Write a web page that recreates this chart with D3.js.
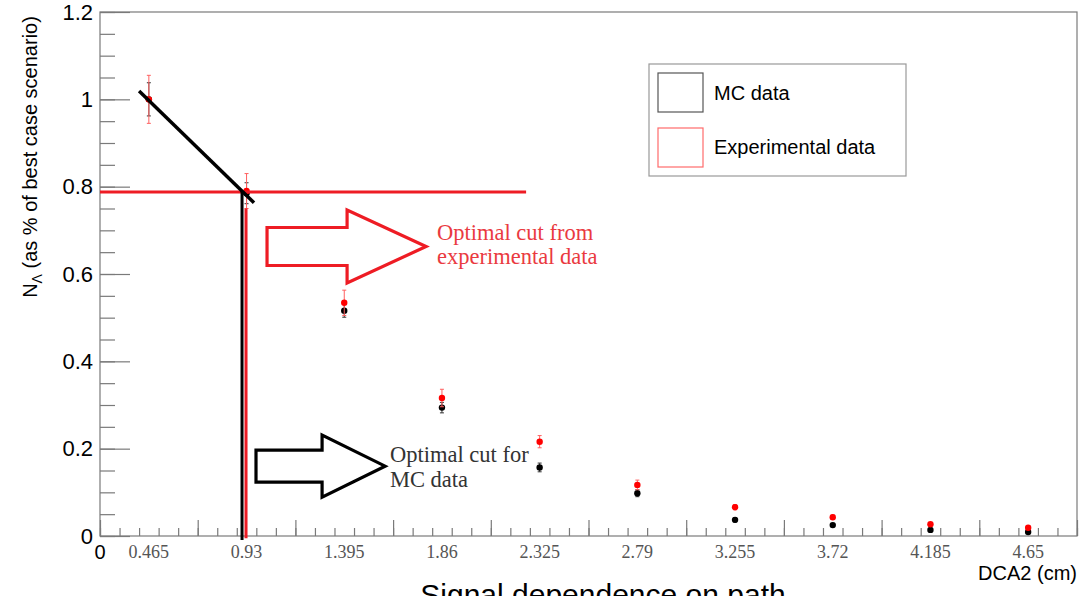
<!DOCTYPE html>
<html>
<head>
<meta charset="utf-8">
<script src="https://cdn.jsdelivr.net/npm/d3@7"></script>
<style>
  html, body { margin: 0; padding: 0; background: #fff; overflow: hidden; }
</style>
</head>
<body>
<div id="chart"></div>
<script>
const width = 1089;
const height = 596;

// bin centres (cm) and the pasted labels under them
var binCentres = [0.2325, 0.6975, 1.1625, 1.6275, 2.0925, 2.5575, 3.0225, 3.4875, 3.9525, 4.4175];
var binLabels = ['0.465', '0.93', '1.395', '1.86', '2.325', '2.79', '3.255', '3.72', '4.185', '4.65'];

// N_Lambda relative to best case
var mcValues  = [1.0, 0.785, 0.516, 0.294, 0.157, 0.098, 0.037, 0.025, 0.014, 0.009];
var mcErrors  = [0.038, 0.024, 0.015, 0.012, 0.010, 0.008, 0.005, 0.004, 0.003, 0.003];
var expValues = [1.0, 0.79, 0.534, 0.316, 0.216, 0.117, 0.066, 0.043, 0.027, 0.019];
var expErrors = [0.055, 0.04, 0.029, 0.02, 0.014, 0.011, 0.006, 0.005, 0.004, 0.004];

var yTicks = [0, 0.2, 0.4, 0.6, 0.8, 1, 1.2];

// hand drawn cut markers, in data units
var mcSlope = [[0.186, 1.019], [0.733, 0.763]];
var expCutLevel = [[0, 0.788], [2.028, 0.788]];
var mcCutLine = [[0.676, 0.789], [0.676, -0.009]];
var expCutLine = [[0.695, 0.75], [0.695, -0.005]];

var color_red = '#ee1c24';
var color_axis = '#7a7a7a';

var svg = d3.select('#chart').append('svg')
  .attr('width', width)
  .attr('height', height)
  .style('font-family', '"Liberation Sans", Arial, sans-serif');

const x = d3.scaleLinear().domain([0, 4.65]).range([100, 1077]);
const y = d3.scaleLinear().domain([0, 1.2]).range([536, 12]);

// frame
svg.append('rect')
  .attr('x', x(0)).attr('y', y(1.2))
  .attr('width', x(4.65) - x(0)).attr('height', y(0) - y(1.2))
  .attr('fill', 'none').attr('stroke', color_axis).attr('stroke-width', 1.2);

// x axis: major every bin, 5 minor per bin
var xMajor = d3.range(0, 11).map(i => i * 0.465);
var xMinor = d3.range(0, 51).map(i => i * 0.093);

function styleAxis(g) {
  g.select('.domain').remove();
  g.selectAll('line').attr('stroke', color_axis).attr('stroke-width', 1.2);
  g.selectAll('text').remove();
}

svg.append('g').attr('transform', 'translate(0,' + y(0) + ')')
  .call(d3.axisBottom(x).tickValues(xMinor).tickSize(-8))
  .call(styleAxis);
svg.append('g').attr('transform', 'translate(0,' + y(0) + ')')
  .call(d3.axisBottom(x).tickValues(xMajor).tickSize(-16))
  .call(styleAxis);

// y axis
var yMinor = d3.range(0, 25).map(i => i * 0.05);
svg.append('g').attr('transform', 'translate(' + x(0) + ',0)')
  .call(d3.axisLeft(y).tickValues(yMinor).tickSize(-15))
  .call(styleAxis);
var yAxis = svg.append('g').attr('transform', 'translate(' + x(0) + ',0)')
  .call(d3.axisLeft(y).tickValues(yTicks).tickSizeInner(-30).tickSizeOuter(0).tickPadding(7).tickFormat(d3.format('')));
yAxis.select('.domain').remove();
yAxis.selectAll('line').attr('stroke', color_axis).attr('stroke-width', 1.2);
yAxis.selectAll('text')
  .attr('fill', '#000')
  .style('font-size', '22px')
  .style('font-family', '"Liberation Sans", Arial, sans-serif');

// ROOT's own zero on the x axis
svg.append('text')
  .attr('x', x(0)).attr('y', 559)
  .attr('text-anchor', 'middle')
  .style('font-size', '20px')
  .text('0');

// pasted bin labels
svg.append('g').selectAll('text')
  .data(binLabels)
  .enter().append('text')
  .attr('x', (d, i) => x(binCentres[i]))
  .attr('y', 558)
  .attr('text-anchor', 'middle')
  .attr('fill', '#555')
  .style('font-family', '"Liberation Serif", "Times New Roman", serif')
  .style('font-size', '18px')
  .text(d => d);

// axis titles
svg.append('text')
  .attr('x', x(4.65)).attr('y', 580)
  .attr('text-anchor', 'end')
  .style('font-size', '20px')
  .text('DCA2 (cm)');

var yTitle = svg.append('text')
  .attr('transform', 'translate(37,' + 157 + ') rotate(-90)')
  .attr('text-anchor', 'middle')
  .style('font-size', '20px');
yTitle.append('tspan').text('N');
yTitle.append('tspan').attr('dy', 5).style('font-size', '14px').text('\u039B');
yTitle.append('tspan').attr('dy', -5).text(' (as % of best case scenario)');

svg.append('text')
  .attr('x', 603).attr('y', 605)
  .attr('text-anchor', 'middle')
  .style('font-size', '30px')
  .text('Signal dependence on path');

// error bars + markers
function drawSeries(values, errors, col, barCol) {
  var g = svg.append('g');
  var pts = values.map((v, i) => ({x: binCentres[i], v: v, e: errors[i]}));
  g.selectAll('line.err').data(pts).enter().append('line')
    .attr('x1', d => x(d.x)).attr('x2', d => x(d.x))
    .attr('y1', d => y(d.v + d.e)).attr('y2', d => y(d.v - d.e))
    .attr('stroke', barCol).attr('stroke-width', 1);
  g.selectAll('line.capT').data(pts).enter().append('line')
    .attr('x1', d => x(d.x) - 2).attr('x2', d => x(d.x) + 2)
    .attr('y1', d => y(d.v + d.e)).attr('y2', d => y(d.v + d.e))
    .attr('stroke', barCol).attr('stroke-width', 1);
  g.selectAll('line.capB').data(pts).enter().append('line')
    .attr('x1', d => x(d.x) - 2).attr('x2', d => x(d.x) + 2)
    .attr('y1', d => y(d.v - d.e)).attr('y2', d => y(d.v - d.e))
    .attr('stroke', barCol).attr('stroke-width', 1);
  g.selectAll('circle').data(pts).enter().append('circle')
    .attr('cx', d => x(d.x)).attr('cy', d => y(d.v))
    .attr('r', 3.2)
    .attr('fill', col);
}
drawSeries(mcValues, mcErrors, '#000', '#333');
drawSeries(expValues, expErrors, '#ff0000', '#ff6060');

// cut lines
const line = d3.line().x(d => x(d[0])).y(d => y(d[1]));
svg.append('path').attr('d', line(expCutLevel))
  .attr('stroke', color_red).attr('stroke-width', 3).attr('fill', 'none');
svg.append('path').attr('d', line(mcSlope))
  .attr('stroke', '#000').attr('stroke-width', 3.5).attr('fill', 'none');
svg.append('path').attr('d', line(expCutLine))
  .attr('stroke', color_red).attr('stroke-width', 3).attr('fill', 'none');
svg.append('path').attr('d', line(mcCutLine))
  .attr('stroke', '#000').attr('stroke-width', 3).attr('fill', 'none');

// arrows: tail x, head base x, tip x, centre y, body half height, head half height
var expArrow = [0.795, 1.176, 1.552, 0.663, 0.0435, 0.0836];
var mcArrow = [0.7425, 1.057, 1.357, 0.160, 0.0367, 0.071];

function arrowPoints(a) {
  var [x0, x1, x2, yc, hb, hh] = a;
  return [[x0, yc + hb], [x1, yc + hb], [x1, yc + hh], [x2, yc],
          [x1, yc - hh], [x1, yc - hb], [x0, yc - hb]];
}
svg.append('path').attr('d', line(arrowPoints(expArrow)) + 'Z')
  .attr('fill', 'none').attr('stroke', color_red).attr('stroke-width', 3.2);
svg.append('path').attr('d', line(arrowPoints(mcArrow)) + 'Z')
  .attr('fill', 'none').attr('stroke', '#000').attr('stroke-width', 3.2);

// annotations
var expNote = ['Optimal cut from', 'experimental data'];
var mcNote = ['Optimal cut for', 'MC data'];
svg.append('g').selectAll('text').data(expNote).enter().append('text')
  .attr('x', x(1.604)).attr('y', (d, i) => y(0.678) + i * 24)
  .attr('fill', '#ea3a3f')
  .style('font-family', '"Liberation Serif", "Times New Roman", serif')
  .style('font-size', '22.5px')
  .text(d => d);
svg.append('g').selectAll('text').data(mcNote).enter().append('text')
  .attr('x', x(1.380)).attr('y', (d, i) => y(0.170) + i * 25)
  .attr('fill', '#333')
  .style('font-family', '"Liberation Serif", "Times New Roman", serif')
  .style('font-size', '22.5px')
  .text(d => d);

// legend
var legend = svg.append('g');
legend.append('rect')
  .attr('x', 649).attr('y', 64).attr('width', 257).attr('height', 112)
  .attr('fill', '#fff').attr('stroke', '#999').attr('stroke-width', 1.2);
var legendItems = [
  {label: 'MC data', col: '#555'},
  {label: 'Experimental data', col: '#ff6b6b'}
];
legend.selectAll('rect.sw').data(legendItems).enter().append('rect')
  .attr('x', 658).attr('y', (d, i) => 73 + i * 55)
  .attr('width', 45).attr('height', 39)
  .attr('fill', 'none').attr('stroke', d => d.col).attr('stroke-width', 1.2);
legend.selectAll('text').data(legendItems).enter().append('text')
  .attr('x', 714).attr('y', (d, i) => 100 + i * 54)
  .style('font-size', '20px')
  .text(d => d.label);
</script>
</body>
</html>
